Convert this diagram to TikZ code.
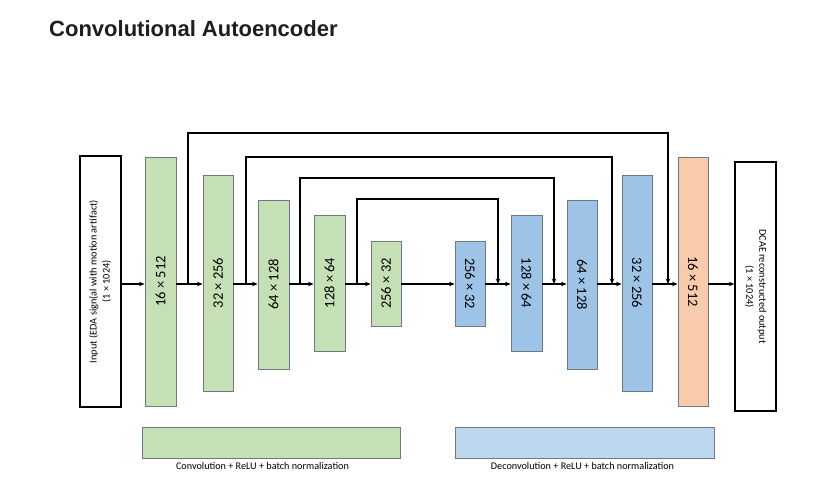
\documentclass[tikz,border=0pt]{standalone}
\usepackage{fontspec}
\usepackage{graphicx}
\setmainfont{Carlito}
\newfontfamily\titlefont{Liberation Sans}
\usetikzlibrary{arrows.meta}
\definecolor{encfill}{HTML}{C5E0B4}
\definecolor{decfill}{HTML}{9DC3E6}
\definecolor{outfill}{HTML}{F8CBAD}
\definecolor{legblue}{HTML}{BDD7EE}
\definecolor{boxline}{HTML}{6E7A82}
\definecolor{titlecol}{HTML}{1E1E1E}
\begin{document}
\begin{tikzpicture}[x=1pt,y=-1pt,
  layer/.style={draw=boxline, line width=0.9pt, inner sep=0pt, font=\fontsize{14.5}{16}\selectfont},
  enc/.style={layer, fill=encfill},
  dec/.style={layer, fill=decfill},
  io/.style={draw=black, line width=1.4pt, fill=white, inner sep=0pt, font=\fontsize{10.3}{13}\selectfont},
  legbox/.style={draw=boxline, line width=0.9pt, inner sep=0pt},
  legtext/.style={font=\fontsize{10.2}{12}\selectfont, inner sep=0pt},
  conn/.style={draw=black, line width=1.3pt},
  arr/.style={conn, -{Stealth[length=5.5pt,width=4.5pt]}}
]
\useasboundingbox (0,0) rectangle (822,502);
\fill[white] (0,0) rectangle (822,502);

\node[anchor=base west, font=\titlefont\bfseries\fontsize{22}{26}\selectfont, text=titlecol, inner sep=0pt] (title) at (49,37) {Convolutional Autoencoder};

\coordinate (axis) at (0,284);

% input / output
\node[io, minimum width=41pt, minimum height=251pt] (in) at (100.5,281.5)
  {\rotatebox{90}{\begin{tabular}{@{}c@{}}Input (EDA sign(al with motion artifact)\\(1 × 1024)\end{tabular}}};
\node[io, minimum width=41pt, minimum height=249pt] (out) at (755.5,286.5)
  {\rotatebox{-90}{\begin{tabular}{@{}c@{}}DCAE reconstructed output\\(1 × 1024)\end{tabular}}};

% encoder
\node[enc, minimum width=31pt, minimum height=249pt] (b1) at (160.5,281.5) {\rotatebox{90}{16 × 512}};
\node[enc, minimum width=30pt, minimum height=216pt] (b2) at (218,283) {\rotatebox{90}{32 × 256}};
\node[enc, minimum width=31pt, minimum height=169pt] (b3) at (273.5,284.5) {\rotatebox{90}{64 × 128}};
\node[enc, minimum width=31pt, minimum height=136pt] (b4) at (329.5,283) {\rotatebox{90}{128 × 64}};
\node[enc, minimum width=30pt, minimum height=85pt] (b5) at (386,283.5) {\rotatebox{90}{256 × 32}};

% decoder
\node[dec, minimum width=30pt, minimum height=85pt] (d1) at (470,283.5) {\rotatebox{-90}{256 × 32}};
\node[dec, minimum width=31pt, minimum height=136pt] (d2) at (526.5,283) {\rotatebox{-90}{128 × 64}};
\node[dec, minimum width=30pt, minimum height=169pt] (d3) at (582,284.5) {\rotatebox{-90}{64 × 128}};
\node[dec, minimum width=30pt, minimum height=216pt] (d4) at (637,283) {\rotatebox{-90}{32 × 256}};
\node[layer, fill=outfill, minimum width=30pt, minimum height=249pt] (d5) at (693,281.5) {\rotatebox{-90}{16 × 512}};

% main chain
\draw[arr] (in.east |- axis) -- (b1.west |- axis);
\draw[arr] (b1.east |- axis) -- (b2.west |- axis);
\draw[arr] (b2.east |- axis) -- (b3.west |- axis);
\draw[arr] (b3.east |- axis) -- (b4.west |- axis);
\draw[arr] (b4.east |- axis) -- (b5.west |- axis);
\draw[arr] (b5.east |- axis) -- (d1.west |- axis);
\draw[arr] (d1.east |- axis) -- (d2.west |- axis);
\draw[arr] (d2.east |- axis) -- (d3.west |- axis);
\draw[arr] (d3.east |- axis) -- (d4.west |- axis);
\draw[arr] (d4.east |- axis) -- (d5.west |- axis);
\draw[arr] (d5.east |- axis) -- (out.west |- axis);

% skip connections
\coordinate (s1) at (188,284);  \coordinate (e1) at (668,284);
\coordinate (s2) at (246,284);  \coordinate (e2) at (612,284);
\coordinate (s3) at (300,284);  \coordinate (e3) at (554,284);
\coordinate (s4) at (357,284);  \coordinate (e4) at (498,284);
\draw[arr] (s1) -- (188,133) -| (e1);
\draw[arr] (s2) -- (246,157) -| (e2);
\draw[arr] (s3) -- (300,178) -| (e3);
\draw[arr] (s4) -- (357,199) -| (e4);

% legend
\node[legbox, fill=encfill, minimum width=258pt, minimum height=31pt] (lg1) at (271,442.5) {};
\node[legbox, fill=legblue, minimum width=259pt, minimum height=31pt] (lg2) at (584.5,442.5) {};
\node[legtext] (lt1) at (262.5,466) {Convolution + ReLU + batch normalization};
\node[legtext] (lt2) at (582.5,466) {Deconvolution + ReLU + batch normalization};
\end{tikzpicture}
\end{document}
